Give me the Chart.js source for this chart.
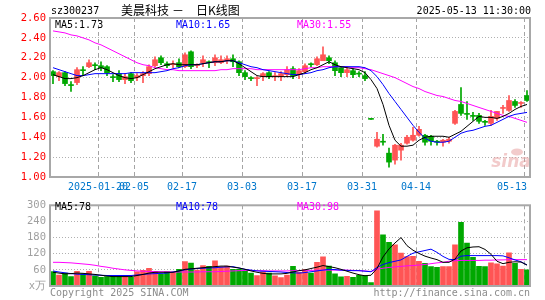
<!DOCTYPE html>
<html>
<head>
<meta charset="utf-8">
<script src="https://cdn.jsdelivr.net/npm/chart.js@4.4.1/dist/chart.umd.min.js"></script>
<style>
  body { margin: 0; background: #fff; width: 545px; height: 300px; overflow: hidden; position: relative; }
  #kChart { position: absolute; left: 0; top: 0; }
  #vChart { position: absolute; left: 0; top: 195px; }
</style>
</head>
<body>
<canvas id="kChart" width="545" height="195"></canvas>
<canvas id="vChart" width="545" height="105"></canvas>
<script>
// trading days shown (2025)
const dates = [
    '01-08','01-09','01-10','01-13','01-14','01-15','01-16','01-17','01-20','01-21','01-22','01-23','01-24','01-27',
    '02-05','02-06','02-07','02-10','02-11','02-12','02-13','02-14','02-17','02-18','02-19','02-20','02-21','02-24','02-25','02-26','02-27','02-28',
    '03-03','03-04','03-05','03-06','03-07','03-10','03-11','03-12','03-13','03-14','03-17','03-18','03-19','03-20','03-21','03-24','03-25','03-26','03-27','03-28','03-31',
    '04-01','04-02','04-03','04-07','04-08','04-09','04-10','04-11','04-14','04-15','04-16','04-17','04-18','04-21','04-22','04-23','04-24','04-25','04-28','04-29','04-30',
    '05-06','05-07','05-08','05-09','05-12','05-13'
];
const tickDates = ['01-20','02-05','02-17','03-03','03-17','03-31','04-14','05-13'];
const tickText  = ['2025-01-20','02-05','02-17','03-03','03-17','03-31','04-14','05-13'];

// daily prices
const openP = [2.06,2.01,2.05,1.93,1.95,2.08,2.11,2.13,2.12,2.11,2.01,2.04,1.98,2.04,2.00,2.02,2.04,2.12,2.20,2.14,2.13,2.15,2.11,2.26,2.12,2.15,2.16,
    2.15,2.15,2.17,2.19,2.16,2.05,2.00,1.99,2.01,2.05,2.01,2.01,2.03,2.09,2.03,2.06,2.14,2.13,2.17,2.20,2.15,2.10,2.05,2.07,2.04,2.02,
    1.58,1.31,1.36,1.24,1.17,1.27,1.34,1.37,1.42,1.42,1.41,1.36,1.35,1.36,1.54,1.73,1.64,1.62,1.62,1.56,1.54,1.59,1.69,1.67,1.76,1.74,1.82];
const highP = [2.07,2.06,2.06,1.96,2.10,2.11,2.18,2.15,2.16,2.12,2.03,2.07,2.04,2.05,2.04,2.06,2.13,2.21,2.22,2.16,2.17,2.19,2.25,2.27,2.14,2.22,2.17,
    2.23,2.22,2.22,2.23,2.17,2.07,2.01,2.01,2.05,2.06,2.05,2.06,2.11,2.11,2.09,2.14,2.15,2.21,2.31,2.22,2.17,2.11,2.10,2.09,2.06,2.06,
    1.58,1.45,1.43,1.29,1.33,1.34,1.42,1.50,1.51,1.43,1.42,1.37,1.38,1.40,1.67,1.90,1.76,1.65,1.64,1.57,1.67,1.66,1.72,1.82,1.78,1.76,1.87];
const lowP = [1.94,1.97,1.92,1.86,1.93,2.02,2.10,2.08,2.07,2.02,1.96,1.96,1.94,1.95,1.97,1.95,2.02,2.11,2.13,2.10,2.10,2.10,2.10,2.09,2.10,2.11,2.10,
    2.12,2.14,2.14,2.11,2.02,1.98,1.97,1.92,1.97,1.99,1.97,1.97,2.01,1.99,1.99,2.04,2.11,2.12,2.17,2.14,2.02,2.01,2.01,2.00,2.01,1.97,
    1.58,1.30,1.32,1.10,1.13,1.17,1.33,1.36,1.41,1.32,1.32,1.32,1.31,1.34,1.53,1.62,1.58,1.57,1.54,1.52,1.52,1.57,1.64,1.66,1.70,1.70,1.76];
const closeP = [2.02,2.05,1.94,1.92,2.08,2.07,2.15,2.12,2.10,2.05,2.00,1.98,2.01,1.97,2.02,2.04,2.11,2.18,2.15,2.12,2.14,2.11,2.23,2.11,2.13,2.18,2.15,
    2.20,2.18,2.19,2.16,2.05,2.01,1.99,2.00,2.04,2.01,2.02,2.04,2.08,2.02,2.07,2.12,2.13,2.19,2.23,2.17,2.07,2.05,2.08,2.03,2.035,1.99,
    1.58,1.38,1.35,1.15,1.32,1.32,1.40,1.42,1.48,1.35,1.36,1.35,1.37,1.38,1.66,1.64,1.63,1.61,1.56,1.55,1.61,1.66,1.70,1.77,1.72,1.75,1.77];

// price moving averages as drawn
const ma5 = [2.03,2.01,1.99,1.99,2.00,2.02,2.05,2.08,2.10,2.08,2.05,2.02,2.00,1.99,2.00,2.03,2.06,2.09,2.11,2.13,2.14,2.13,2.13,2.13,2.13,2.14,2.15,
    2.16,2.16,2.17,2.17,2.14,2.10,2.06,2.02,2.01,2.01,2.01,2.01,2.01,2.01,2.03,2.05,2.08,2.10,2.13,2.16,2.13,2.11,2.10,2.09,2.08,2.05,
    1.98,1.89,1.73,1.52,1.37,1.31,1.31,1.32,1.37,1.40,1.41,1.41,1.41,1.40,1.43,1.46,1.51,1.56,1.61,1.60,1.60,1.59,1.61,1.64,1.68,1.71,1.73];
const ma10 = [2.10,2.08,2.06,2.04,2.02,2.02,2.03,2.04,2.04,2.04,2.04,2.04,2.04,2.05,2.05,2.05,2.05,2.05,2.06,2.07,2.09,2.10,2.12,2.13,2.13,2.14,2.15,
    2.16,2.16,2.17,2.17,2.15,2.13,2.11,2.10,2.08,2.07,2.06,2.05,2.04,2.03,2.03,2.04,2.05,2.07,2.08,2.10,2.11,2.11,2.11,2.11,2.11,2.10,
    2.07,2.01,1.93,1.84,1.76,1.68,1.60,1.52,1.45,1.39,1.36,1.35,1.35,1.36,1.40,1.44,1.46,1.47,1.49,1.51,1.52,1.55,1.58,1.61,1.63,1.64,1.65];
const ma30 = [2.47,2.46,2.45,2.43,2.42,2.40,2.38,2.35,2.33,2.30,2.27,2.24,2.21,2.18,2.15,2.13,2.12,2.10,2.09,2.08,2.08,2.07,2.07,2.07,2.07,2.07,2.07,
    2.07,2.08,2.08,2.09,2.09,2.09,2.09,2.08,2.08,2.08,2.08,2.08,2.08,2.08,2.08,2.09,2.10,2.10,2.11,2.11,2.11,2.11,2.11,2.10,2.10,2.09,
    2.08,2.06,2.04,2.02,2.00,1.97,1.94,1.91,1.89,1.86,1.84,1.82,1.81,1.79,1.77,1.76,1.74,1.72,1.70,1.68,1.66,1.64,1.62,1.61,1.59,1.57,1.55];

// volume (x万) and its moving averages
const vol = [54,41,48,35,55,45,55,38,32,35,36,38,36,32,53,58,66,55,45,53,51,62,91,85,59,76,73,94,71,74,62,62,59,48,39,53,48,38,31,41,73,51,61,48,88,108,74,
    45,34,36,32,40,39,
    13,279,190,162,153,122,109,110,92,84,72,69,72,72,153,237,160,107,73,72,86,82,74,123,84,62,60];
const vma5 = [51,48,45,46,48,47,45,43,40,37,35,35,35,35,39,43,48,51,51,51,51,56,62,64,66,68,70,
    72,74,74,70,67,62,56,51,47,45,45,45,47,52,57,60,65,70,76,72,68,62,55,48,42,38,
    40,65,108,138,160,180,150,133,121,111,104,98,88,88,100,130,142,145,146,136,118,92,83,88,90,89,78];
const vma10 = [56,52,49,46,44,43,42,41,40,39,39,39,39,39,41,43,45,46,47,48,52,56,60,63,65,66,67,
    68,70,71,72,67,62,59,56,55,54,53,52,50,49,48,50,53,56,59,62,61,59,58,57,57,55,
    53,69,80,87,92,97,110,122,127,132,137,125,110,99,98,111,113,113,113,113,113,113,112,105,97,90,78];
const vma30 = [88,88,87,86,84,82,80,77,73,70,66,63,60,58,56,55,54,54,53,53,52,52,52,52,52,53,53,
    53,54,55,56,57,58,58,57,57,56,56,56,56,57,57,58,58,59,59,59,59,59,59,58,57,56,
    54,62,66,69,71,73,75,76,78,80,83,86,88,92,94,95,95,95,95,96,96,97,97,98,98,98,98];

const RED = '#ff5555';
const GREEN = '#00a800';
const MONO = '10px "DejaVu Sans Mono", monospace';
const last = arr => arr[arr.length - 1];

const isUp = i => closeP[i] > openP[i] || (closeP[i] === openP[i] && i > 0 && closeP[i] >= closeP[i - 1]);
const candleColors = dates.map((d, i) => isUp(i) ? RED : GREEN);
const tickIdx = tickDates.map(d => dates.indexOf(d));

function lineSet(label, data, color) {
    return { type: 'line', label, data, borderColor: color, borderWidth: 1, pointRadius: 0, tension: 0, order: 0 };
}

function xAxis(height) {
    return {
        type: 'category',
        offset: true,
        ticks: { display: false, autoSkip: false },
        grid: {
            offset: true,
            drawTicks: false,
            color: c => tickIdx.includes(c.index) ? '#a4a4a4' : 'transparent',
            lineWidth: 1
        },
        border: { display: false, dash: [4, 3] },
        afterFit: s => { s.height = height; }
    };
}

// frame, header texts, legends and date labels for the price panel
const kDecor = {
    id: 'kDecor',
    beforeDatasetsDraw(chart) {
        const { ctx } = chart;
        ctx.save();
        ctx.fillStyle = 'rgba(232,160,160,0.55)';
        ctx.font = 'italic bold 17px "DejaVu Sans", sans-serif';
        ctx.textAlign = 'center';
        ctx.textBaseline = 'middle';
        ctx.fillText('sina', 511, 163);
        ctx.beginPath();
        ctx.ellipse(517, 152, 6, 3.5, 0, 0, Math.PI * 2);
        ctx.fill();
        ctx.restore();
    },
    afterDraw(chart) {
        const { ctx, chartArea: a, scales: { x } } = chart;
        ctx.save();
        ctx.strokeStyle = '#a8a8a8';
        ctx.lineWidth = 2;
        ctx.strokeRect(a.left, a.top, a.right - a.left, a.bottom - a.top);

        ctx.textBaseline = 'middle';
        ctx.font = MONO;
        ctx.fillStyle = '#000';
        ctx.textAlign = 'left';
        ctx.fillText('sz300237', 51, 11);
        ctx.font = '12px "Noto Sans CJK SC", sans-serif';
        ctx.fillText('美晨科技', 121, 10);
        ctx.fillText('－', 172, 10);
        ctx.fillText('日K线图', 196, 10);
        ctx.font = MONO;
        ctx.textAlign = 'right';
        ctx.fillText('2025-05-13 11:30:00', 531, 11);

        ctx.textAlign = 'left';
        ctx.fillStyle = '#000';
        ctx.fillText('MA5:' + last(ma5).toFixed(2), 55, 25);
        ctx.fillStyle = '#0000ff';
        ctx.fillText('MA10:' + last(ma10).toFixed(2), 176, 25);
        ctx.fillStyle = '#ff00ff';
        ctx.fillText('MA30:' + last(ma30).toFixed(2), 297, 25);

        const half = (x.getPixelForValue(1) - x.getPixelForValue(0)) / 2;
        ctx.fillStyle = '#0077cc';
        ctx.textAlign = 'center';
        tickIdx.forEach((idx, k) => {
            const w = ctx.measureText(tickText[k]).width;
            const px = Math.min(x.getPixelForValue(idx) - half, a.right - 3 - w / 2);
            ctx.fillText(tickText[k], px, 187);
        });
        ctx.restore();
    }
};

// frame, legends and footer for the volume panel
const vDecor = {
    id: 'vDecor',
    afterDraw(chart) {
        const { ctx, chartArea: a } = chart;
        ctx.save();
        ctx.strokeStyle = '#a8a8a8';
        ctx.lineWidth = 2;
        ctx.strokeRect(a.left, a.top, a.right - a.left, a.bottom - a.top);

        ctx.font = MONO;
        ctx.textBaseline = 'middle';
        ctx.textAlign = 'left';
        ctx.fillStyle = '#000';
        ctx.fillText('MA5:' + last(vma5), 55, 12);
        ctx.fillStyle = '#0000ff';
        ctx.fillText('MA10:' + last(vma10), 176, 12);
        ctx.fillStyle = '#ff00ff';
        ctx.fillText('MA30:' + last(vma30), 297, 12);

        ctx.fillStyle = '#8c8c8c';
        ctx.fillText('Copyright 2025 SINA.COM', 50, 98);
        ctx.textAlign = 'right';
        ctx.fillText('http://finance.sina.com.cn', 530, 98);
        ctx.restore();
    }
};

new Chart(document.getElementById('kChart'), {
    type: 'bar',
    data: {
        labels: dates,
        datasets: [
            lineSet('MA5', ma5, '#000000'),
            lineSet('MA10', ma10, '#0000ff'),
            lineSet('MA30', ma30, '#ff00ff'),
            {
                label: 'body',
                data: openP.map((o, i) => [o, closeP[i]]),
                backgroundColor: candleColors,
                barThickness: 5,
                minBarLength: 1,
                grouped: false,
                order: 1
            },
            {
                label: 'wick',
                data: lowP.map((l, i) => [l, highP[i]]),
                backgroundColor: candleColors,
                barThickness: 1,
                grouped: false,
                order: 2
            }
        ]
    },
    options: {
        responsive: false,
        animation: false,
        devicePixelRatio: 1,
        layout: { padding: { top: 18, right: 15, left: 0, bottom: 0 } },
        plugins: { legend: { display: false }, tooltip: { enabled: false } },
        scales: {
            x: xAxis(18),
            y: {
                min: 1.0,
                max: 2.6,
                ticks: {
                    stepSize: 0.2,
                    padding: 4,
                    color: '#ff0000',
                    font: { family: '"DejaVu Sans Mono", monospace', size: 10.5 },
                    callback: v => Number(v).toFixed(2)
                },
                grid: { drawTicks: false, color: '#b0b0b0', lineWidth: 1 },
                border: { display: false, dash: [1, 2] },
                afterFit: s => { s.width = 50; }
            }
        }
    },
    plugins: [kDecor]
});

new Chart(document.getElementById('vChart'), {
    type: 'bar',
    data: {
        labels: dates,
        datasets: [
            lineSet('MA5', vma5, '#000000'),
            lineSet('MA10', vma10, '#0000ff'),
            lineSet('MA30', vma30, '#ff00ff'),
            {
                label: 'volume',
                data: vol,
                backgroundColor: candleColors,
                barThickness: 5,
                grouped: false,
                order: 1
            }
        ]
    },
    options: {
        responsive: false,
        animation: false,
        devicePixelRatio: 1,
        layout: { padding: { top: 6, right: 15, left: 0, bottom: 0 } },
        plugins: { legend: { display: false }, tooltip: { enabled: false } },
        scales: {
            x: xAxis(14),
            y: {
                min: 0,
                max: 300,
                ticks: {
                    stepSize: 60,
                    padding: 4,
                    color: '#a0a0a0',
                    font: { family: '"DejaVu Sans Mono", monospace', size: 10.5 },
                    callback: v => v === 0 ? 'x万' : v
                },
                grid: { drawTicks: false, color: c => (c.tick && c.tick.value > 0 && c.tick.value < 300) ? '#b0b0b0' : 'transparent', lineWidth: 1 },
                border: { display: false, dash: [1, 2] },
                afterFit: s => { s.width = 50; }
            }
        }
    },
    plugins: [vDecor]
});
</script>
</body>
</html>
